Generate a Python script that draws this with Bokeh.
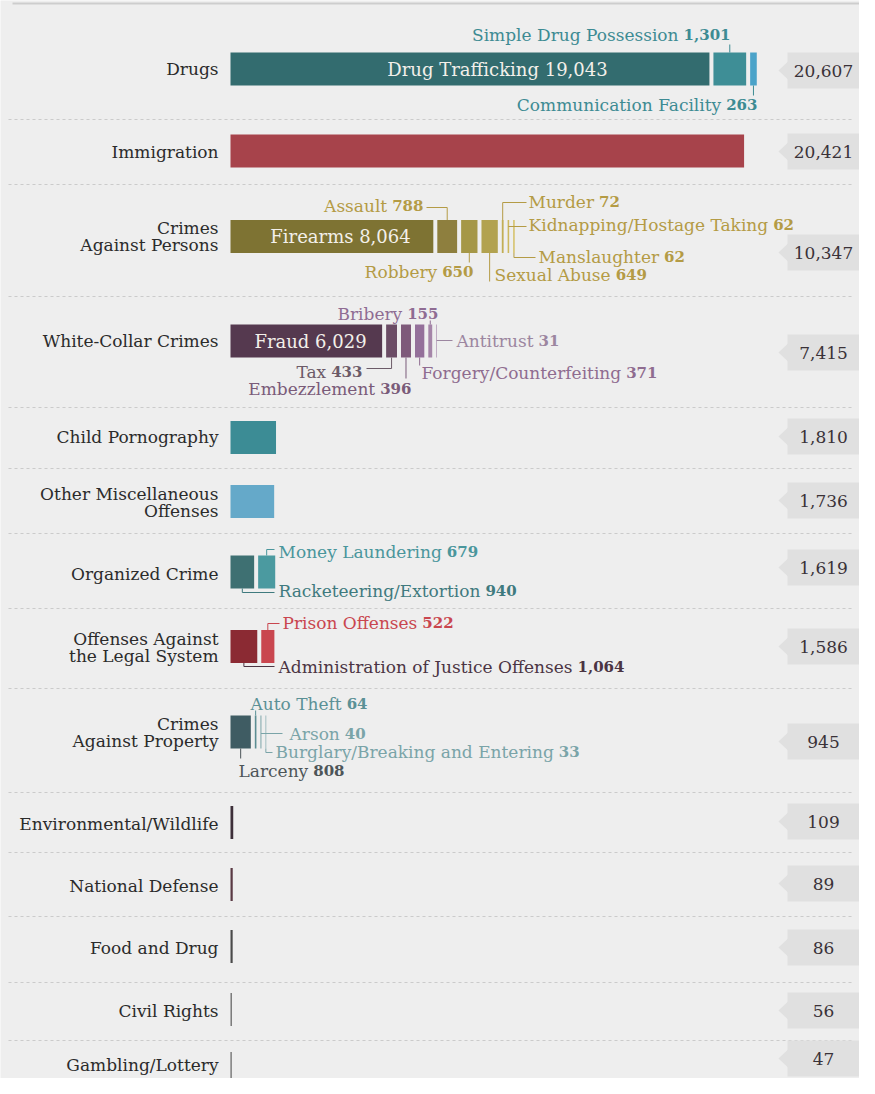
import glob
import subprocess
from bokeh.plotting import figure
from bokeh.models import Range1d
from bokeh.embed import file_html
from bokeh.resources import INLINE
from bokeh.core.properties import value

# ---------------- data ----------------
categories = ["Drugs", "Immigration", "Crimes Against Persons", "White-Collar Crimes",
              "Child Pornography", "Other Miscellaneous Offenses", "Organized Crime",
              "Offenses Against the Legal System", "Crimes Against Property",
              "Environmental/Wildlife", "National Defense", "Food and Drug",
              "Civil Rights", "Gambling/Lottery"]
totals = [20607, 20421, 10347, 7415, 1810, 1736, 1619, 1586, 945, 109, 89, 86, 56, 47]

drugs_names = ["Drug Trafficking", "Simple Drug Possession", "Communication Facility"]
drugs_values = [19043, 1301, 263]
immigration_names = ["Immigration"]
immigration_values = [20421]
persons_names = ["Firearms", "Assault", "Robbery", "Sexual Abuse", "Murder",
                 "Kidnapping/Hostage Taking", "Manslaughter"]
persons_values = [8064, 788, 650, 649, 72, 62, 62]
whitecollar_names = ["Fraud", "Tax", "Embezzlement", "Forgery/Counterfeiting", "Bribery", "Antitrust"]
whitecollar_values = [6029, 433, 396, 371, 155, 31]
child_names = ["Child Pornography"]
child_values = [1810]
othermisc_names = ["Other Miscellaneous Offenses"]
othermisc_values = [1736]
organized_names = ["Racketeering/Extortion", "Money Laundering"]
organized_values = [940, 679]
legal_names = ["Administration of Justice Offenses", "Prison Offenses"]
legal_values = [1064, 522]
property_names = ["Larceny", "Auto Theft", "Arson", "Burglary/Breaking and Entering"]
property_values = [808, 64, 40, 33]
env_values = [109]
natdef_values = [89]
food_values = [86]
civil_values = [56]
gambling_values = [47]

segment_values = [drugs_values, immigration_values, persons_values, whitecollar_values,
                  child_values, othermisc_values, organized_values, legal_values,
                  property_values, env_values, natdef_values, food_values,
                  civil_values, gambling_values]
segment_names = [drugs_names, immigration_names, persons_names, whitecollar_names,
                 child_names, othermisc_names, organized_names, legal_names,
                 property_names, ["Environmental/Wildlife"], ["National Defense"],
                 ["Food and Drug"], ["Civil Rights"], ["Gambling/Lottery"]]

# ---------------- style / layout ----------------
W, H = 859, 1078
S = 0.02515          # pixels per case
X0 = 230             # x of zero
GAP = 4 / S          # gap between segments (cases)
BAR_H = 33
FONT = value("DejaVu Serif")
NAME_PX = 17
VAL_PX = 15


def X(px):
    return (px - X0) / S


# text measurement (for placing the bold number right after the name)
def _font_path(bold):
    pat = "DejaVu Serif:bold" if bold else "DejaVu Serif"
    try:
        out = subprocess.run(["fc-match", "-f", "%{file}", pat],
                             capture_output=True, text=True, timeout=10).stdout.strip()
        if out and ("Serif" in out):
            return out
    except Exception:
        pass
    name = "DejaVuSerif-Bold.ttf" if bold else "DejaVuSerif.ttf"
    c = glob.glob("/usr/share/fonts/**/" + name, recursive=True)
    return c[0] if c else None


try:
    from PIL import ImageFont
    _fn = ImageFont.truetype(_font_path(False), NAME_PX)
    _fb = ImageFont.truetype(_font_path(True), VAL_PX)

    def w_name(t):
        return _fn.getlength(t)

    def w_val(t):
        return _fb.getlength(t)
except Exception:
    def w_name(t):
        return 0.56 * NAME_PX * len(t)

    def w_val(t):
        return 0.66 * VAL_PX * len(t)

SPACE = 5

seg_colors = [
    ["#336c6f", "#3e8e96", "#4ba3c9"],
    ["#a7434b"],
    ["#7e7333", "#8e7f3e", "#a59747", "#b2a24f", "#c2ae55", "#cdb85d", "#d6c26a"],
    ["#55394f", "#6b4c65", "#7e5a7a", "#94709a", "#a585a8", "#b59bb8"],
    ["#3c8c95"],
    ["#65a9c9"],
    ["#3e7072", "#4b9aa0"],
    ["#8b2a33", "#c9464f"],
    ["#3f5c63", "#5b8d92", "#7ea6aa", "#93b5b8"],
    ["#3d2f39"], ["#5a3a44"], ["#4a4a4a"], ["#707070"], ["#5e5e5e"],
]

row_y = [68.5, 150.5, 236, 340.5, 437, 501, 571.5, 646, 731.5, 822, 884, 946, 1009, 1068]
total_y = [70, 151, 252, 352, 436, 500, 567, 646, 741, 821, 883, 947, 1010, 1058]
cat_label_lines = [
    [("Drugs", 68)], [("Immigration", 151)],
    [("Crimes", 227), ("Against Persons", 244)],
    [("White-Collar Crimes", 340)], [("Child Pornography", 436)],
    [("Other Miscellaneous", 493), ("Offenses", 510)],
    [("Organized Crime", 573)],
    [("Offenses Against", 638), ("the Legal System", 655)],
    [("Crimes", 723), ("Against Property", 740)],
    [("Environmental/Wildlife", 823)], [("National Defense", 885)],
    [("Food and Drug", 947)], [("Civil Rights", 1010)], [("Gambling/Lottery", 1064)],
]
separators_y = [119, 184, 296, 407, 468, 533, 608, 688, 792, 852, 916, 982, 1040]

# inside-bar labels: (row, seg, center x)
inside_labels = [(0, 0, 497), (2, 0, 340), (3, 0, 310)]

# annotations: row, seg, colour, align, anchor x, y, leader
#  align "L": label starts at anchor; "R": label ends at anchor
#  leader: (kind, y_turn, x_end) kind in up/down/side
annotations = [
    (0, 1, "#3d8b93", "R", 730, 34, ("up", 44, None)),
    (0, 2, "#3d8b93", "R", 757, 104, ("down", 95, None)),
    (2, 1, "#b49b45", "R", 423, 205, ("up", 207, 426)),
    (2, 2, "#b49b45", "R", 473, 271, ("down", 262, None)),
    (2, 3, "#b49b45", "L", 494, 274, ("down", 281, None)),
    (2, 4, "#b49b45", "L", 528, 201, ("up", 202, 526)),
    (2, 5, "#b49b45", "L", 528, 224, ("side", 226, 526)),
    (2, 6, "#b49b45", "L", 538, 256, ("down", 257, 535)),
    (3, 1, "#6c5b68", "R", 362, 371, ("down", 368, 366)),
    (3, 2, "#7a5b79", "R", 411, 388, ("down", 378, None)),
    (3, 3, "#8f6c90", "L", 421, 372, ("down", 365, None)),
    (3, 4, "#8f6c93", "R", 438, 313, ("up", 320, None)),
    (3, 5, "#9c86a0", "L", 456, 340, ("side", 340, 452)),
    (6, 0, "#3f7a7e", "L", 278, 590, ("down", 592, 274)),
    (6, 1, "#4a969c", "L", 278, 551, ("up", 549, 274)),
    (7, 0, "#4b3443", "L", 278, 666, ("down", 666, 274)),
    (7, 1, "#c9464f", "L", 282, 622, ("up", 623, 279)),
    (8, 0, "#4d5558", "L", 238, 770, ("down", 758, None)),
    (8, 1, "#5b9196", "L", 250, 703, ("up", 710, None)),
    (8, 2, "#7aa4a8", "L", 289, 733, ("side", 733, 282)),
    (8, 3, "#7aa4a8", "L", 275, 751, ("down", 752, 272)),
]

# ---------------- figure ----------------
p = figure(width=W, height=H, output_backend="svg", toolbar_location=None,
           x_range=Range1d(X(0), X(W)), y_range=Range1d(H, 0),
           min_border=0, outline_line_color=None,
           background_fill_color="#eeeeee", border_fill_color="#eeeeee")
p.axis.visible = False
p.grid.visible = False

# top rule and separators
p.line([X(12), X(W)], [3, 3], line_color="#cdcdcd", line_width=2)
for sy in separators_y:
    p.line([X(8), X(854)], [sy, sy], line_color="#cbcbcb", line_width=1, line_dash="3 3")

# bars
seg_geom = []
for r, vals in enumerate(segment_values):
    geom = []
    start = 0.0
    for i, v in enumerate(vals):
        left = start
        right = start + v
        geom.append((left, right))
        start = right + GAP
    seg_geom.append(geom)
    y = row_y[r]
    p.quad(left=[g[0] for g in geom], right=[g[1] for g in geom],
           top=[y - BAR_H / 2] * len(geom), bottom=[y + BAR_H / 2] * len(geom),
           fill_color=seg_colors[r][:len(geom)], line_color=None)

# category labels
for lines in cat_label_lines:
    for txt, ly in lines:
        p.text(x=[X(218)], y=[ly], text=[txt], text_font=FONT, text_font_size=f"{NAME_PX}px",
               text_align="right", text_baseline="middle", text_color="#2b2b2b")

# inside-bar labels
for r, s, cx in inside_labels:
    p.text(x=[X(cx)], y=[row_y[r]],
           text=[f"{segment_names[r][s]} {segment_values[r][s]:,}"],
           text_font=FONT, text_font_size="18px", text_align="center",
           text_baseline="middle", text_color="#f3f0ea")

# annotations with leaders
for r, s, col, align, ax, ly, leader in annotations:
    name = segment_names[r][s]
    val = f"{segment_values[r][s]:,}"
    if align == "L":
        xn = ax
        xv = ax + w_name(name) + SPACE
    else:
        xv = ax - w_val(val)
        xn = xv - SPACE - w_name(name)
    p.text(x=[X(xn)], y=[ly], text=[name], text_font=FONT, text_font_size=f"{NAME_PX}px",
           text_align="left", text_baseline="middle", text_color=col)
    p.text(x=[X(xv)], y=[ly], text=[val], text_font=FONT, text_font_size=f"{VAL_PX}px",
           text_font_style="bold", text_align="left", text_baseline="middle", text_color=col)
    left, right = seg_geom[r][s]
    cx = (left + right) / 2
    kind, yt, xe = leader
    top = row_y[r] - BAR_H / 2
    bot = row_y[r] + BAR_H / 2
    if kind == "up":
        xs, ys = [cx, cx], [top, yt]
    elif kind == "down":
        xs, ys = [cx, cx], [bot, yt]
    else:
        xs, ys = [cx], [yt]
    if xe is not None:
        xs.append(X(xe))
        ys.append(yt)
    p.line(xs, ys, line_color=col, line_width=1)

# totals boxes
for t, ty in zip(totals, total_y):
    p.quad(left=[X(787)], right=[X(W + 5)], top=[ty - 18], bottom=[ty + 18],
           fill_color="#e0e0e0", line_color=None)
    p.patch([X(787.5), X(778), X(787.5)], [ty - 9, ty, ty + 9],
            fill_color="#e0e0e0", line_color=None)
    p.text(x=[X(823)], y=[ty], text=[f"{t:,}"], text_font=FONT, text_font_size="17px",
           text_align="center", text_baseline="middle", text_color="#3a3238")

open("out.html", "w").write(file_html(p, INLINE))
